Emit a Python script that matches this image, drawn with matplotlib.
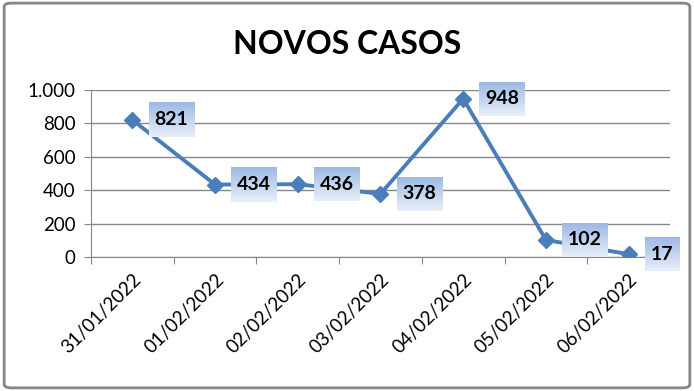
import numpy as np
import matplotlib.pyplot as plt
from matplotlib.patches import FancyBboxPatch
from matplotlib.colors import LinearSegmentedColormap

# data
dates = ['31/01/2022', '01/02/2022', '02/02/2022', '03/02/2022',
         '04/02/2022', '05/02/2022', '06/02/2022']
casos = [821, 434, 436, 378, 948, 102, 17]
yticks = [0, 200, 400, 600, 800, 1000]
ytick_labels = ['0', '200', '400', '600', '800', '1.000']

plt.rcParams['font.family'] = ['Lato', 'DejaVu Sans']

fig = plt.figure(figsize=(6.94, 3.91), dpi=100)
ax = fig.add_axes([0.1311, 0.3427, 0.8343, 0.4271])

# outer frame
fig.patches.append(FancyBboxPatch((0.006, 0.008), 0.988, 0.984,
                                  boxstyle='round,pad=0,rounding_size=0.01',
                                  transform=fig.transFigure, fill=False,
                                  edgecolor='#868686', linewidth=2))

x = list(range(len(dates)))
ax.plot(x, casos, color='#4a7ebb', linewidth=2.8, marker='D', markersize=8,
        markeredgecolor='#4a7ebb', zorder=3)

labels = []
for xi, v in zip(x, casos):
    t = ax.annotate(str(v), (xi, v), xytext=(16, 0), textcoords='offset points',
                    ha='left', va='center', fontsize=14, fontweight='bold',
                    zorder=5)
    labels.append(t)

ax.set_xlim(-0.5, len(dates) - 0.5)
ax.set_ylim(0, 1000)
ax.set_yticks(yticks)
ax.set_yticklabels(ytick_labels, fontsize=13.5)
ax.set_xticks([i - 0.5 for i in range(len(dates) + 1)], minor=False)
ax.set_xticklabels([])
ax.set_xticks(x, minor=True)
ax.set_xticklabels(dates, minor=True, rotation=45, ha='right',
                   rotation_mode='anchor', fontsize=13.5)
ax.tick_params(axis='x', which='minor', length=0, pad=10)
ax.tick_params(axis='x', which='major', length=5, color='#868686')
ax.tick_params(axis='y', length=5, color='#868686', pad=6)

ax.grid(axis='y', color='#868686', linewidth=1)
ax.set_axisbelow(True)
for s in ['top', 'right']:
    ax.spines[s].set_visible(False)
ax.spines['left'].set_color('#868686')
ax.spines['bottom'].set_color('#868686')

fig.text(0.5, 0.885, 'NOVOS CASOS', ha='center', va='center',
         fontsize=23, fontweight='bold')

# gradient boxes behind data labels
grad = LinearSegmentedColormap.from_list('g', ['#e8eff9', '#9db9e3'])
fig.canvas.draw()
inv = ax.transData.inverted()
for t in labels:
    bb = t.get_window_extent()
    cy = (bb.y0 + bb.y1) / 2
    x0, y0 = inv.transform((bb.x0 - 6, cy - 17))
    x1, y1 = inv.transform((bb.x1 + 6, cy + 17))
    ax.imshow(np.linspace(0, 1, 64).reshape(-1, 1), cmap=grad, origin='lower',
              extent=[x0, x1, y0, y1], aspect='auto', zorder=4, clip_on=False)
ax.set_xlim(-0.5, len(dates) - 0.5)
ax.set_ylim(0, 1000)

fig.savefig('out.png', dpi=100)
